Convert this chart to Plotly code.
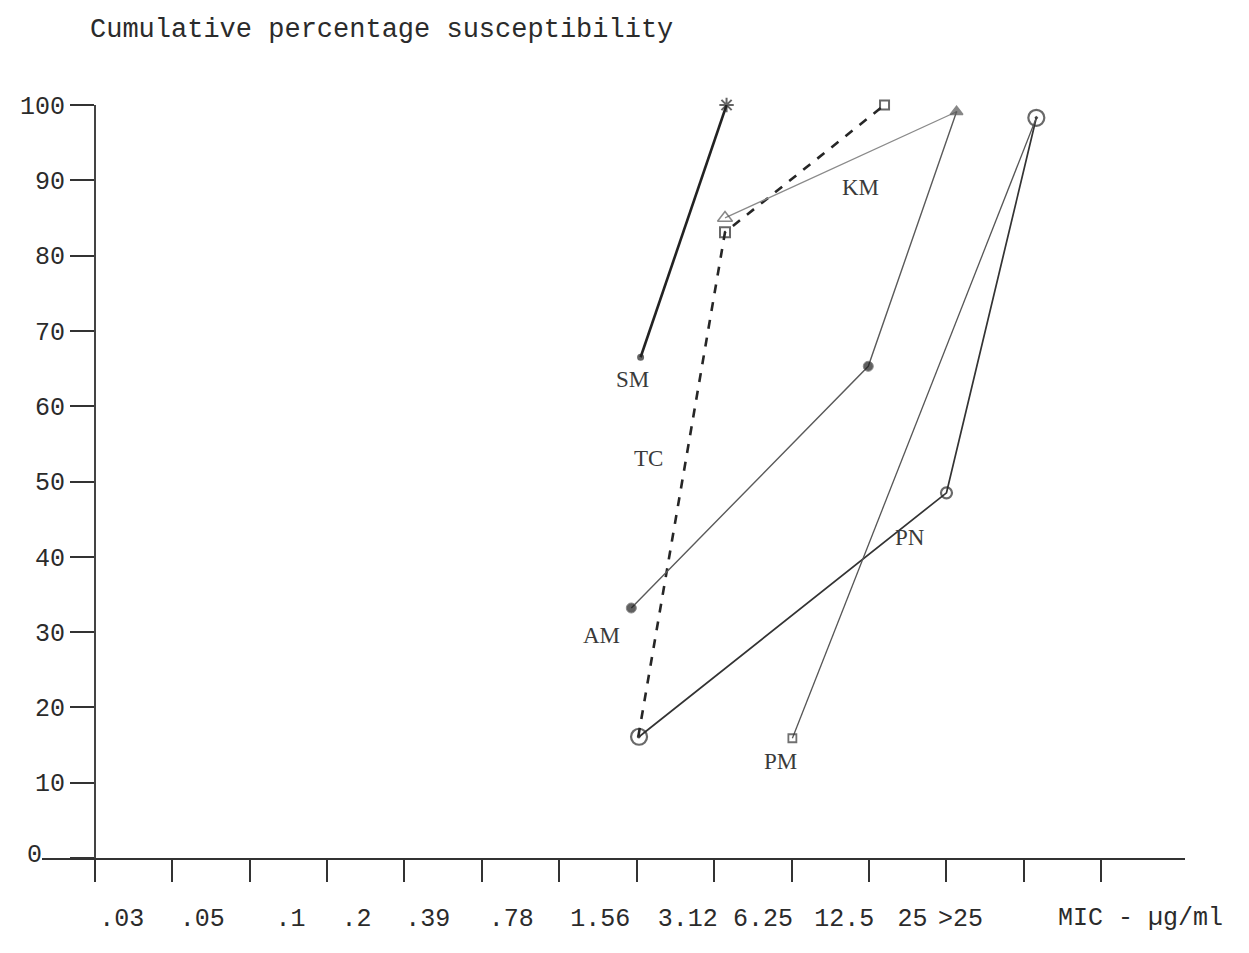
import plotly.graph_objects as go

# ---- data (x = MIC class position index on the typed axis, y = cumulative %) ----
mic_labels = [".03", ".05", ".1", ".2", ".39", ".78", "1.56", "3.12", "6.25", "12.5", "25", ">25"]
y_ticks = [0, 10, 20, 30, 40, 50, 60, 70, 80, 90, 100]
y_tick_text = ["", "10", "20", "30", "40", "50", "60", "70", "80", "90", "100"]

sm_x = [7.05, 8.16]
sm_y = [66.5, 100]

tc_x = [7.02, 8.14, 10.2]
tc_y = [16.1, 83.1, 100]

km_x = [8.14, 11.13]
km_y = [85.0, 99.1]

am_x = [6.93, 9.99, 11.13]
am_y = [33.2, 65.3, 99.1]

pn_x = [7.03, 11.0, 12.16]
pn_y = [16.1, 48.5, 98.3]

pm_x = [9.01, 12.16]
pm_y = [15.9, 98.3]

series_names = ["SM", "TC", "KM", "AM", "PN", "PM"]

# ---- layout helpers (positions / styles) ----
tick_positions = list(range(14))
label_positions = [0.35, 1.39, 2.53, 3.38, 4.30, 5.38, 6.53, 7.66, 8.63, 9.68, 10.56, 11.18]
name_anchor = {"SM": (6.95, 63.5), "TC": (7.15, 53.0), "AM": (6.55, 29.5),
               "KM": (9.89, 89.0), "PN": (10.53, 42.5), "PM": (8.86, 12.8)}

MONO = "Liberation Mono, Courier New, monospace"
SERIF = "Liberation Serif, Times New Roman, serif"
INK = "#2b2b2b"

fig = go.Figure()

fig.add_trace(go.Scatter(x=sm_x, y=sm_y, mode="lines+markers", name="SM",
                         line=dict(color="#222222", width=2.6),
                         marker=dict(symbol=["circle", "asterisk-open"], size=[5, 12],
                                     color="#222222", line=dict(color="#222222", width=2)),
                         cliponaxis=False))
fig.add_trace(go.Scatter(x=tc_x, y=tc_y, mode="lines+markers", name="TC",
                         line=dict(color="#262626", width=2.6, dash="dash"),
                         marker=dict(symbol=["circle-open", "square-open", "square-open"], size=[1, 10, 9],
                                     color="#262626", line=dict(color="#262626", width=2)),
                         cliponaxis=False))
fig.add_trace(go.Scatter(x=km_x, y=km_y, mode="lines+markers", name="KM",
                         line=dict(color="#8a8a8a", width=1.3),
                         marker=dict(symbol=["triangle-up-open", "triangle-up"], size=[13, 11],
                                     color="#555555", line=dict(color="#555555", width=1.5)),
                         cliponaxis=False))
fig.add_trace(go.Scatter(x=am_x, y=am_y, mode="lines+markers", name="AM",
                         line=dict(color="#5a5a5a", width=1.4),
                         marker=dict(symbol=["circle", "circle", "triangle-up"], size=[10, 10, 1],
                                     color="#1e1e1e"),
                         cliponaxis=False))
fig.add_trace(go.Scatter(x=pn_x, y=pn_y, mode="lines+markers", name="PN",
                         line=dict(color="#333333", width=1.7),
                         marker=dict(symbol=["circle-open-dot", "circle-open", "circle-open-dot"], size=[16, 11, 16],
                                     color="#2a2a2a", line=dict(color="#2a2a2a", width=2.2)),
                         cliponaxis=False))
fig.add_trace(go.Scatter(x=pm_x, y=pm_y, mode="lines+markers", name="PM",
                         line=dict(color="#555555", width=1.3),
                         marker=dict(symbol=["square-open", "circle-open"], size=[8, 1],
                                     color="#333333", line=dict(color="#333333", width=1.8)),
                         cliponaxis=False))

for nm in series_names:
    ax_, ay_ = name_anchor[nm]
    fig.add_annotation(x=ax_, y=ay_, xref="x", yref="y", text=nm, showarrow=False,
                       font=dict(family=SERIF, size=23, color="#3a3a3a"))

fig.add_annotation(x=12.41, y=0, xref="x", yref="y", yshift=-60, text="MIC - \u00b5g/ml",
                   showarrow=False, xanchor="left", yanchor="middle",
                   font=dict(family=MONO, size=25, color=INK))
# the y-axis "0" is typed to the left of where the baseline starts
fig.add_annotation(x=-0.66, y=0, xref="x", yref="y", text="0", showarrow=False,
                   xanchor="right", yanchor="middle", yshift=3,
                   font=dict(family=MONO, size=25, color=INK))

fig.update_layout(
    width=1249, height=953, autosize=False,
    margin=dict(l=27, r=72, t=97, b=103),
    paper_bgcolor="white", plot_bgcolor="white",
    showlegend=False,
    title=dict(text="Cumulative percentage susceptibility", x=82 / 1249, xanchor="left",
               xref="container", y=1 - 20 / 953, yanchor="middle", yref="container",
               font=dict(family=MONO, size=27, color=INK)),
    xaxis=dict(range=[-0.68, 14.08], showgrid=False, zeroline=False,
               showline=True, linecolor="#333333", linewidth=2,
               tickmode="array", tickvals=label_positions, ticktext=mic_labels,
               ticks="", ticklabelstandoff=36,
               tickfont=dict(family=MONO, size=25, color=INK),
               minor=dict(tickmode="array", tickvals=tick_positions, ticks="outside",
                          ticklen=22, tickwidth=2, tickcolor="#333333", showgrid=False)),
    yaxis=dict(range=[0, 100], anchor="free", position=(88 - 35) / 1150,
               showgrid=False, zeroline=False,
               showline=True, linecolor="#444444", linewidth=1.5,
               tickmode="array", tickvals=y_ticks, ticktext=y_tick_text,
               ticks="outside", ticklen=24,
               tickwidth=2, tickcolor="#333333",
               tickfont=dict(family=MONO, size=25, color=INK)),
)

fig.write_html("out.html")
